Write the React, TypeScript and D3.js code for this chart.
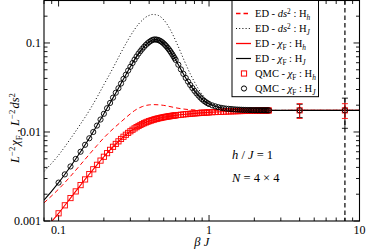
import * as d3 from "d3";
import React from "react";

// beta J grid of the QMC points
const betaGrid = [
  0.1, 0.11, 0.12, 0.13, 0.14, 0.15, 0.16, 0.17, 0.18, 0.19, 0.2, 0.21, 0.22, 0.23, 0.24, 0.25, 0.26,
  0.27, 0.28, 0.29, 0.3, 0.31, 0.32, 0.33, 0.34, 0.35, 0.36, 0.37, 0.38, 0.39, 0.4, 0.41, 0.42, 0.43,
  0.44, 0.45, 0.46, 0.47, 0.48, 0.49, 0.5, 0.51, 0.52, 0.53, 0.54, 0.55, 0.56, 0.57, 0.58, 0.59, 0.6,
  0.625, 0.65, 0.675, 0.7, 0.725, 0.75, 0.775, 0.8, 0.825, 0.85, 0.875, 0.9, 0.925, 0.95, 0.975, 1.0,
  1.05, 1.1, 1.15, 1.2, 1.25, 1.3, 1.35, 1.4, 1.45, 1.5, 1.55, 1.6, 1.65, 1.7, 1.75, 1.8, 1.85, 1.9,
  1.95, 2.0, 2.05, 2.1, 2.15, 2.2, 2.25, 2.3, 2.35, 2.4, 2.45, 2.5,
];

// QMC chi_F : H_J (circles)
const qmcChiHj = [
  0.0027, 0.00334, 0.0041, 0.00498, 0.006, 0.00718, 0.0085, 0.01, 0.0118, 0.0138, 0.016, 0.0185,
  0.0212, 0.0243, 0.0276, 0.031, 0.035, 0.0395, 0.044, 0.049, 0.054, 0.0595, 0.065, 0.0705, 0.076,
  0.081, 0.086, 0.0905, 0.095, 0.099, 0.1025, 0.1055, 0.108, 0.1093, 0.1095, 0.109, 0.108, 0.1062,
  0.104, 0.1015, 0.0985, 0.0953, 0.092, 0.0885, 0.085, 0.0815, 0.078, 0.0745, 0.071, 0.0677, 0.0645,
  0.057, 0.0505, 0.045, 0.0405, 0.0368, 0.0337, 0.0312, 0.029, 0.0272, 0.0257, 0.0244, 0.0233, 0.0224,
  0.0217, 0.0211, 0.0206,
  0.0199, 0.0194, 0.019, 0.0187, 0.0185, 0.0183, 0.0182, 0.0181, 0.018, 0.0179, 0.01785, 0.0178,
  0.01775, 0.0177, 0.01767, 0.01764, 0.01762, 0.0176, 0.01758, 0.01757, 0.01756, 0.01755, 0.01754,
  0.01754, 0.01753, 0.01753, 0.01752, 0.01752, 0.01751, 0.01751,
];

// QMC chi_F : H_h (squares)
const qmcChiHh = [
  0.00122, 0.0015, 0.00181, 0.00215, 0.00253, 0.00293, 0.00336, 0.00381, 0.00428, 0.00477, 0.00527,
  0.00578, 0.0063, 0.00682, 0.00734, 0.00785, 0.00835, 0.00884, 0.00931, 0.00976, 0.01019, 0.0106,
  0.01098, 0.01134, 0.01168, 0.01199, 0.01228, 0.01255, 0.0128, 0.01303, 0.01324, 0.01343, 0.01361,
  0.01378, 0.01394, 0.01408, 0.01421, 0.01433, 0.01444, 0.01455, 0.01465, 0.01474, 0.01483, 0.01491,
  0.01499, 0.01506, 0.01513, 0.0152, 0.01526, 0.01532, 0.01538,
  0.01551, 0.01563, 0.01574, 0.01584, 0.01593, 0.01602, 0.0161, 0.01617, 0.01624, 0.0163, 0.01636,
  0.01642, 0.01647, 0.01652, 0.01656, 0.0166,
  0.01668, 0.01675, 0.01681, 0.01687, 0.01692, 0.01697, 0.01701, 0.01705, 0.01709, 0.01712, 0.01715,
  0.01718, 0.0172, 0.01722, 0.01724, 0.01726, 0.01728, 0.0173, 0.01731, 0.01733, 0.01734, 0.01736,
  0.01737, 0.01738, 0.01739, 0.0174, 0.01741, 0.01742, 0.01743, 0.01744,
];

// QMC points at large beta J, with error bars
const qmcTailBeta = [4, 8];
const qmcTailHh = [0.0175, 0.0175];
const qmcTailHhErr = [0.0033, 0.0033];
const qmcTailHj = [0.0175, 0.0175];
const qmcTailHjErr = [0.003, 0.0065];

// ED curves
const edChiHjBeta = [0.08, 0.09, 0.1, 0.12, 0.14, 0.16, 0.18, 0.2, 0.22, 0.25, 0.28, 0.3, 0.32, 0.35, 0.38, 0.4, 0.42, 0.44, 0.46, 0.48, 0.5, 0.55, 0.6, 0.65, 0.7, 0.8, 0.9, 1, 1.2, 1.5, 2, 3, 10];
const edChiHj = [0.00172, 0.00217, 0.0027, 0.0041, 0.006, 0.0085, 0.0118, 0.016, 0.0212, 0.031, 0.044, 0.054, 0.065, 0.081, 0.095, 0.1025, 0.108, 0.1095, 0.108, 0.104, 0.0985, 0.0815, 0.0645, 0.0505, 0.0405, 0.029, 0.0233, 0.0206, 0.0187, 0.0179, 0.01756, 0.0175, 0.0175];

const edChiHhBeta = [0.08, 0.09, 0.1, 0.12, 0.14, 0.16, 0.18, 0.2, 0.22, 0.25, 0.3, 0.35, 0.4, 0.45, 0.5, 0.6, 0.7, 0.8, 1, 1.2, 1.5, 2, 3, 5, 10];
const edChiHh = [0.00079, 0.00099, 0.00122, 0.00181, 0.00253, 0.00336, 0.00428, 0.00527, 0.0063, 0.00785, 0.01019, 0.01199, 0.01324, 0.01408, 0.01465, 0.01538, 0.01584, 0.01617, 0.0166, 0.01687, 0.01712, 0.01733, 0.01745, 0.01748, 0.0175];

const edDsHjBeta = [0.08, 0.1, 0.12, 0.14, 0.16, 0.18, 0.2, 0.22, 0.24, 0.26, 0.28, 0.3, 0.32, 0.34, 0.36, 0.38, 0.4, 0.42, 0.44, 0.46, 0.48, 0.5, 0.52, 0.55, 0.58, 0.6, 0.63, 0.66, 0.7, 0.75, 0.8, 0.85, 0.9, 1, 1.1, 1.2, 1.4, 1.7, 2, 3, 10];
const edDsHj = [0.0036, 0.0055, 0.0084, 0.0123, 0.0174, 0.0245, 0.034, 0.0455, 0.06, 0.078, 0.098, 0.12, 0.142, 0.163, 0.18, 0.195, 0.204, 0.209, 0.208, 0.204, 0.195, 0.182, 0.167, 0.143, 0.12, 0.106, 0.088, 0.073, 0.058, 0.045, 0.0365, 0.0305, 0.0265, 0.0218, 0.0197, 0.0187, 0.018, 0.0177, 0.0176, 0.0175, 0.0175];

const edDsHhBeta = [0.08, 0.1, 0.12, 0.14, 0.16, 0.18, 0.2, 0.22, 0.24, 0.26, 0.28, 0.3, 0.32, 0.34, 0.36, 0.38, 0.4, 0.43, 0.46, 0.5, 0.55, 0.6, 0.67, 0.75, 0.85, 1, 1.3, 10];
const edDsHh = [0.0016, 0.00228, 0.00318, 0.0043, 0.0056, 0.00705, 0.0086, 0.0101, 0.01155, 0.013, 0.0145, 0.016, 0.0174, 0.0185, 0.0193, 0.01985, 0.02015, 0.0203, 0.0202, 0.0199, 0.0193, 0.0187, 0.01815, 0.0178, 0.0176, 0.01752, 0.0175, 0.0175];

const markerBeta = 8;

const xMajor = [0.1, 1, 10];
const xMajorLabels = ["0.1", "1", "10"];
const xMinor = [0.08, 0.09, 0.2, 0.3, 0.4, 0.5, 0.6, 0.7, 0.8, 0.9, 2, 3, 4, 5, 6, 7, 8, 9];
const yMajor = [0.001, 0.01, 0.1];
const yMajorLabels = ["0.001", "0.01", "0.1"];
const yMinor = [0.002, 0.003, 0.004, 0.005, 0.006, 0.007, 0.008, 0.009, 0.02, 0.03, 0.04, 0.05, 0.06, 0.07, 0.08, 0.09, 0.2, 0.3];

const W = 366;
const H = 249;
const L = 44;
const R = 359.5;
const T = 0.5;
const B = 221;
const FONT = "'Liberation Serif', 'Times New Roman', serif";
const RED = "#ff0000";

const App: React.FC = () => {
  React.useEffect(() => {
    document.body.style.margin = "0";
  }, []);

  const x = d3.scaleLog().domain([0.08, 10]).range([L, R]);
  const y = d3.scaleLog().domain([0.001, 0.3]).range([B, T]);

  const line = (bs: number[], vs: number[]) =>
    d3
      .line<number>()
      .x((_, i) => x(bs[i]))
      .y((v) => y(v))
      .curve(d3.curveMonotoneX)(vs) || "";

  const sup = (s: string) => (
    <>
      <tspan dy={-4.5} fontSize="0.7em">{s}</tspan>
      <tspan dy={4.5}>{"\u200a"}</tspan>
    </>
  );

  const legendRows = [
    { kind: "dash", label: "ds2", sub: "h" },
    { kind: "dot", label: "ds2", sub: "J" },
    { kind: "red", label: "chi", sub: "h" },
    { kind: "black", label: "chi", sub: "J" },
    { kind: "square", label: "qchi", sub: "h" },
    { kind: "circle", label: "qchi", sub: "J" },
  ];

  return (
    <svg width={W} height={H} style={{ display: "block" }} fontFamily={FONT}>
      <defs>
        <clipPath id="plot">
          <rect x={L} y={T} width={R - L} height={B - T} />
        </clipPath>
      </defs>
      <rect width={W} height={H} fill="#fff" />

      {/* ticks */}
      <g stroke="#000" strokeWidth={0.9}>
        {xMajor.map((t) => (
          <g key={"xM" + t}>
            <line x1={x(t)} x2={x(t)} y1={B} y2={B - 6} />
            <line x1={x(t)} x2={x(t)} y1={T} y2={T + 6} />
          </g>
        ))}
        {xMinor.map((t) => (
          <g key={"xm" + t}>
            <line x1={x(t)} x2={x(t)} y1={B} y2={B - 3.5} />
            <line x1={x(t)} x2={x(t)} y1={T} y2={T + 3.5} />
          </g>
        ))}
        {yMajor.map((t) => (
          <g key={"yM" + t}>
            <line x1={L} x2={L + 6} y1={y(t)} y2={y(t)} />
            <line x1={R} x2={R - 6} y1={y(t)} y2={y(t)} />
          </g>
        ))}
        {yMinor.map((t) => (
          <g key={"ym" + t}>
            <line x1={L} x2={L + 3.5} y1={y(t)} y2={y(t)} />
            <line x1={R} x2={R - 3.5} y1={y(t)} y2={y(t)} />
          </g>
        ))}
      </g>

      <g clipPath="url(#plot)" fill="none">
        <line x1={x(markerBeta)} x2={x(markerBeta)} y1={T} y2={B} stroke="#000" strokeWidth={1.2} strokeDasharray="4.5,3" />
        <path d={line(edDsHjBeta, edDsHj)} stroke="#000" strokeWidth={1} strokeDasharray="1,2.2" />
        <path d={line(edDsHhBeta, edDsHh)} stroke={RED} strokeWidth={1} strokeDasharray="4.5,3" />
        <path d={line(edChiHhBeta, edChiHh)} stroke={RED} strokeWidth={1.1} />
        <path d={line(edChiHjBeta, edChiHj)} stroke="#000" strokeWidth={1.1} />

        {betaGrid.map((b, i) => (
          <rect key={"s" + i} x={x(b) - 2.6} y={y(qmcChiHh[i]) - 2.6} width={5.2} height={5.2} stroke={RED} strokeWidth={0.9} />
        ))}
        {betaGrid.map((b, i) => (
          <circle key={"c" + i} cx={x(b)} cy={y(qmcChiHj[i])} r={2.6} stroke="#000" strokeWidth={0.9} />
        ))}

        {qmcTailBeta.map((b, i) => {
          const cx = x(b);
          const hj = [y(qmcTailHj[i] - qmcTailHjErr[i]), y(qmcTailHj[i] + qmcTailHjErr[i])];
          const hh = [y(qmcTailHh[i] - qmcTailHhErr[i]), y(qmcTailHh[i] + qmcTailHhErr[i])];
          return (
            <g key={"t" + i}>
              <g stroke="#000" strokeWidth={0.9}>
                <line x1={cx} x2={cx} y1={hj[0]} y2={hj[1]} />
                <line x1={cx - 3} x2={cx + 3} y1={hj[0]} y2={hj[0]} />
                <line x1={cx - 3} x2={cx + 3} y1={hj[1]} y2={hj[1]} />
              </g>
              <g stroke={RED} strokeWidth={0.9}>
                <line x1={cx} x2={cx} y1={hh[0]} y2={hh[1]} />
                <line x1={cx - 3} x2={cx + 3} y1={hh[0]} y2={hh[0]} />
                <line x1={cx - 3} x2={cx + 3} y1={hh[1]} y2={hh[1]} />
              </g>
              <rect x={cx - 2.6} y={y(qmcTailHh[i]) - 2.6} width={5.2} height={5.2} stroke={RED} strokeWidth={0.9} />
              <circle cx={cx} cy={y(qmcTailHj[i])} r={2.6} stroke="#000" strokeWidth={0.9} />
            </g>
          );
        })}
      </g>

      {/* frame */}
      <rect x={L} y={T} width={R - L} height={B - T} fill="none" stroke="#000" strokeWidth={1.1} />

      {/* tick labels */}
      <g fontSize={12} fill="#000">
        {xMajor.map((t, i) => (
          <text key={"xl" + t} x={x(t)} y={234} textAnchor="middle">{xMajorLabels[i]}</text>
        ))}
        {yMajor.map((t, i) => (
          <text key={"yl" + t} x={41} y={y(t)} dy="0.35em" textAnchor="end">{yMajorLabels[i]}</text>
        ))}
      </g>

      {/* axis titles */}
      <text x={(L + R) / 2} y={246} textAnchor="middle" fontSize={12.5} fontStyle="italic">
        β J
      </text>
      <text transform="translate(19,128) rotate(-90)" textAnchor="middle" fontSize={12.5}>
        <tspan fontStyle="italic">L</tspan>
        {sup("−2")}
        <tspan fontStyle="italic">χ</tspan>
        <tspan dy={3} fontSize="0.7em">F</tspan>
        <tspan dy={-3}> ,  </tspan>
        <tspan fontStyle="italic">L</tspan>
        {sup("−2")}
        <tspan fontStyle="italic">ds</tspan>
        <tspan dy={-4.5} fontSize="0.7em">2</tspan>
      </text>

      {/* legend */}
      <rect x={232} y={T} width={86.5} height={96.2} fill="#fff" stroke="#000" strokeWidth={1} />
      {legendRows.map((r, i) => {
        const cy = 13.5 + 15 * i;
        let sample: React.ReactNode = null;
        if (r.kind === "dash") sample = <path d={`M236,${cy}H251`} fill="none" stroke={RED} strokeWidth={1.3} strokeDasharray="4.5,3" />;
        if (r.kind === "dot") sample = <path d={`M236,${cy}H251`} fill="none" stroke="#000" strokeWidth={1.1} strokeDasharray="1,2.2" />;
        if (r.kind === "red") sample = <path d={`M236,${cy}H251`} fill="none" stroke={RED} strokeWidth={1.3} />;
        if (r.kind === "black") sample = <path d={`M236,${cy}H251`} fill="none" stroke="#000" strokeWidth={1.2} />;
        if (r.kind === "square") sample = <rect x={241.4} y={cy - 2.6} width={5.2} height={5.2} fill="none" stroke={RED} strokeWidth={1} />;
        if (r.kind === "circle") sample = <circle cx={244} cy={cy} r={2.6} fill="none" stroke="#000" strokeWidth={1} />;
        return (
          <g key={"lg" + i}>
            {sample}
            <text x={255} y={cy} dy="0.35em" fontSize={10.5}>
              {r.label === "qchi" ? "QMC - " : "ED - "}
              {r.label === "ds2" ? (
                <>
                  <tspan fontStyle="italic">ds</tspan>
                  <tspan dy={-3.5} fontSize="0.7em">2</tspan>
                  <tspan dy={3.5}> : H</tspan>
                </>
              ) : (
                <>
                  <tspan fontStyle="italic">χ</tspan>
                  <tspan dy={2.5} fontSize="0.7em">F</tspan>
                  <tspan dy={-2.5}>{r.label === "chi" ? " :  H" : " : H"}</tspan>
                </>
              )}
              <tspan dy={2.5} fontSize="0.7em" fontStyle="italic">{r.sub}</tspan>
            </text>
          </g>
        );
      })}

      {/* annotations */}
      <text x={232} y={159} fontSize={12.5}>
        <tspan fontStyle="italic">h</tspan> / <tspan fontStyle="italic">J</tspan> = 1
      </text>
      <text x={232} y={182} fontSize={12.5}>
        <tspan fontStyle="italic">N</tspan> = 4 × 4
      </text>
    </svg>
  );
};

export default App;
